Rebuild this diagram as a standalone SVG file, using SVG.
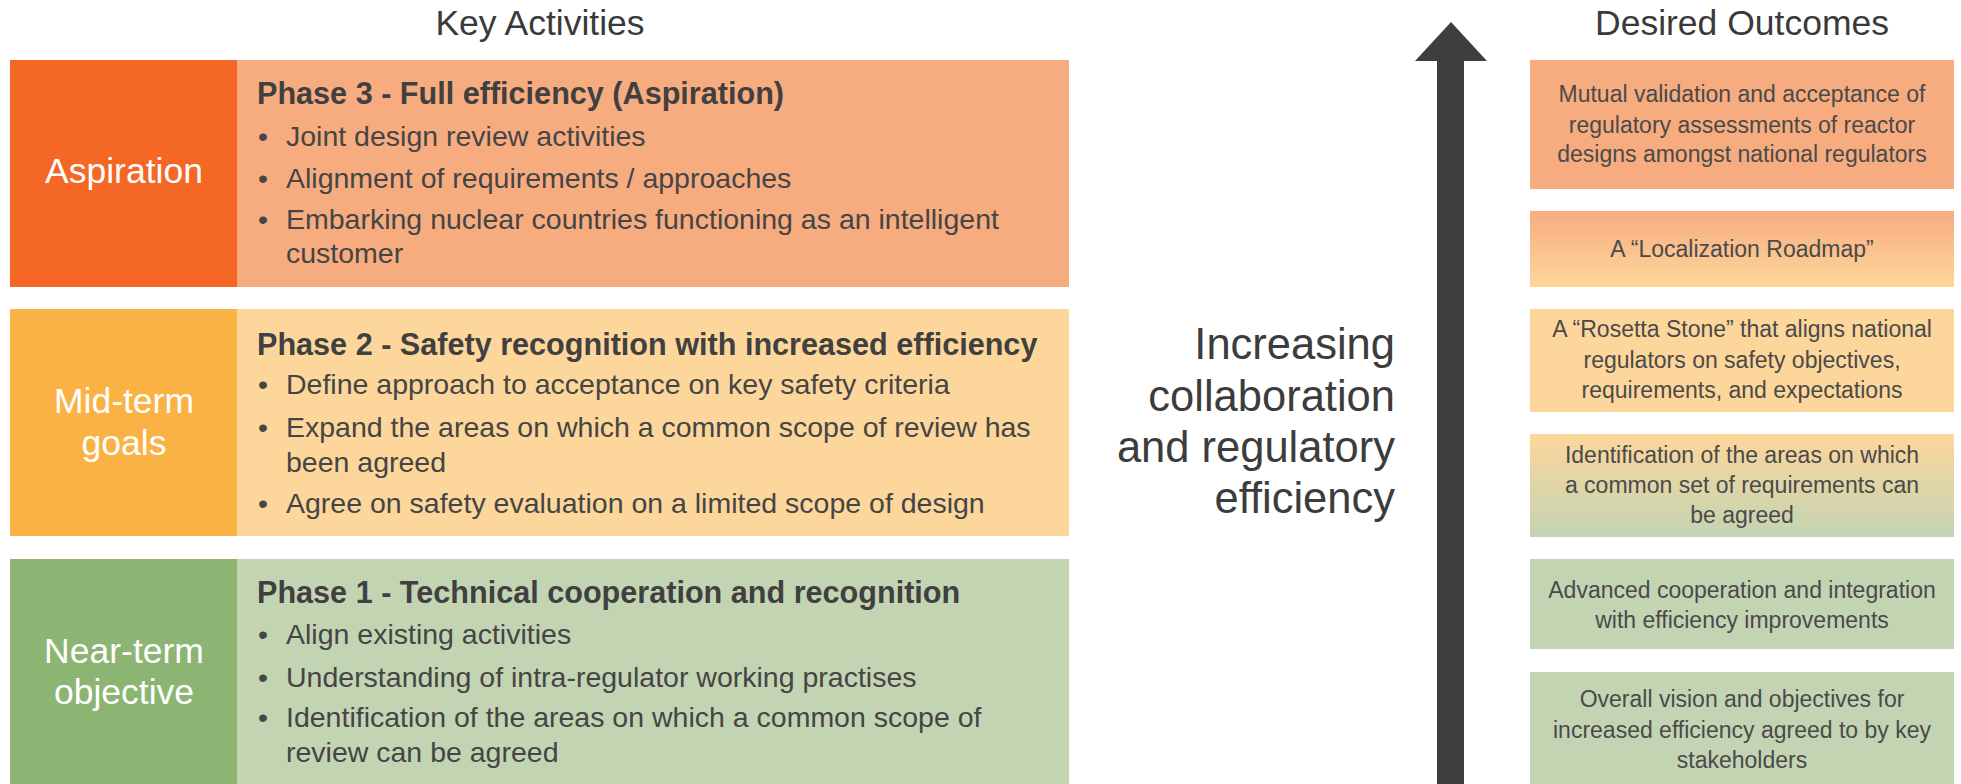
<svg xmlns="http://www.w3.org/2000/svg" width="1961" height="784" viewBox="0 0 1961 784">
  <defs>
    <linearGradient id="gradOrangeToYellow" x1="0" y1="0" x2="0" y2="1">
      <stop offset="0" stop-color="#F7AC80"/>
      <stop offset="1" stop-color="#FDD69B"/>
    </linearGradient>
    <linearGradient id="gradYellowToGreen" x1="0" y1="0" x2="0" y2="1">
      <stop offset="0" stop-color="#FDD69B"/>
      <stop offset="1" stop-color="#C3D4B3"/>
    </linearGradient>
    <style>
      text { font-family: "Liberation Sans", Arial, Helvetica, sans-serif; }
      .header { font-size: 35.5px; fill: #3A3A3A; text-anchor: middle; }
      .label { font-size: 35.5px; fill: #FFFFFF; text-anchor: middle; }
      .title { font-size: 30.6px; font-weight: bold; fill: #404040; }
      .bullet { font-size: 28.5px; fill: #454545; }
      .outcome { font-size: 23px; fill: #4A4A4A; text-anchor: middle; }
      .trend { font-size: 43.5px; fill: #3C3C3C; text-anchor: end; }
      .c-aspiration { fill: #F46725; }
      .c-phase3 { fill: #F7AC80; }
      .c-midterm { fill: #FAB244; }
      .c-phase2 { fill: #FDD69B; }
      .c-nearterm { fill: #8CB574; }
      .c-phase1 { fill: #C3D4B3; }
      .arrow { fill: #3E3E3E; }
    </style>
  </defs>

  <rect width="1961" height="784" fill="#FFFFFF"/>

  <!-- column headings -->
  <text class="header" x="540" y="35">Key Activities</text>
  <text class="header" x="1742" y="35">Desired Outcomes</text>

  <!-- Phase 3 row -->
  <g id="aspiration">
    <rect class="c-aspiration" x="10" y="60" width="228" height="227"/>
    <text class="label" x="124" y="183">Aspiration</text>
  </g>
  <g id="phase3">
    <rect class="c-phase3" x="237" y="60" width="832" height="227"/>
    <text class="title" x="257" y="104">Phase 3 - Full efficiency (Aspiration)</text>
    <text class="bullet" x="258" y="146">•</text>
    <text class="bullet" x="286" y="146">Joint design review activities</text>
    <text class="bullet" x="258" y="188">•</text>
    <text class="bullet" x="286" y="188">Alignment of requirements / approaches</text>
    <text class="bullet" x="258" y="229">•</text>
    <text class="bullet" x="286" y="229">Embarking nuclear countries functioning as an intelligent</text>
    <text class="bullet" x="286" y="263">customer</text>
  </g>

  <!-- Phase 2 row -->
  <g id="midterm">
    <rect class="c-midterm" x="10" y="309" width="228" height="227"/>
    <text class="label" x="124" y="413">Mid-term</text>
    <text class="label" x="124" y="455">goals</text>
  </g>
  <g id="phase2">
    <rect class="c-phase2" x="237" y="309" width="832" height="227"/>
    <text class="title" x="257" y="355">Phase 2 - Safety recognition with increased efficiency</text>
    <text class="bullet" x="258" y="394">•</text>
    <text class="bullet" x="286" y="394">Define approach to acceptance on key safety criteria</text>
    <text class="bullet" x="258" y="437">•</text>
    <text class="bullet" x="286" y="437">Expand the areas on which a common scope of review has</text>
    <text class="bullet" x="286" y="472">been agreed</text>
    <text class="bullet" x="258" y="513">•</text>
    <text class="bullet" x="286" y="513">Agree on safety evaluation on a limited scope of design</text>
  </g>

  <!-- Phase 1 row -->
  <g id="nearterm">
    <rect class="c-nearterm" x="10" y="559" width="228" height="225"/>
    <text class="label" x="124" y="663">Near-term</text>
    <text class="label" x="124" y="704">objective</text>
  </g>
  <g id="phase1">
    <rect class="c-phase1" x="237" y="559" width="832" height="225"/>
    <text class="title" x="257" y="603">Phase 1 - Technical cooperation and recognition</text>
    <text class="bullet" x="258" y="644">•</text>
    <text class="bullet" x="286" y="644">Align existing activities</text>
    <text class="bullet" x="258" y="687">•</text>
    <text class="bullet" x="286" y="687">Understanding of intra-regulator working practises</text>
    <text class="bullet" x="258" y="727">•</text>
    <text class="bullet" x="286" y="727">Identification of the areas on which a common scope of</text>
    <text class="bullet" x="286" y="762">review can be agreed</text>
  </g>

  <!-- trend caption -->
  <g id="trend-label">
    <text class="trend" x="1395" y="359">Increasing</text>
    <text class="trend" x="1395" y="411">collaboration</text>
    <text class="trend" x="1395" y="462">and regulatory</text>
    <text class="trend" x="1395" y="513">efficiency</text>
  </g>

  <!-- upward trend arrow -->
  <g id="connectors">
    <rect class="arrow" x="1437" y="60" width="27" height="724"/>
    <polygon class="arrow" points="1415,61 1451,22 1487,61"/>
  </g>

  <!-- desired outcomes, top (most ambitious) to bottom -->
  <g id="outcome-mutual-validation">
    <rect class="c-phase3" x="1530" y="60" width="424" height="129"/>
    <text class="outcome" x="1742" y="102">Mutual validation and acceptance of</text>
    <text class="outcome" x="1742" y="133">regulatory assessments of reactor</text>
    <text class="outcome" x="1742" y="162">designs amongst national regulators</text>
  </g>
  <g id="outcome-localization-roadmap">
    <rect x="1530" y="211" width="424" height="76" fill="url(#gradOrangeToYellow)"/>
    <text class="outcome" x="1742" y="257">A “Localization Roadmap”</text>
  </g>
  <g id="outcome-rosetta-stone">
    <rect class="c-phase2" x="1530" y="309" width="424" height="103"/>
    <text class="outcome" x="1742" y="337">A “Rosetta Stone” that aligns national</text>
    <text class="outcome" x="1742" y="368">regulators on safety objectives,</text>
    <text class="outcome" x="1742" y="398">requirements, and expectations</text>
  </g>
  <g id="outcome-common-requirements">
    <rect x="1530" y="434" width="424" height="103" fill="url(#gradYellowToGreen)"/>
    <text class="outcome" x="1742" y="463">Identification of the areas on which</text>
    <text class="outcome" x="1742" y="493">a common set of requirements can</text>
    <text class="outcome" x="1742" y="523">be agreed</text>
  </g>
  <g id="outcome-advanced-cooperation">
    <rect class="c-phase1" x="1530" y="559" width="424" height="90"/>
    <text class="outcome" x="1742" y="598">Advanced cooperation and integration</text>
    <text class="outcome" x="1742" y="628">with efficiency improvements</text>
  </g>
  <g id="outcome-overall-vision">
    <rect class="c-phase1" x="1530" y="672" width="424" height="112"/>
    <text class="outcome" x="1742" y="707">Overall vision and objectives for</text>
    <text class="outcome" x="1742" y="738">increased efficiency agreed to by key</text>
    <text class="outcome" x="1742" y="768">stakeholders</text>
  </g>
</svg>
